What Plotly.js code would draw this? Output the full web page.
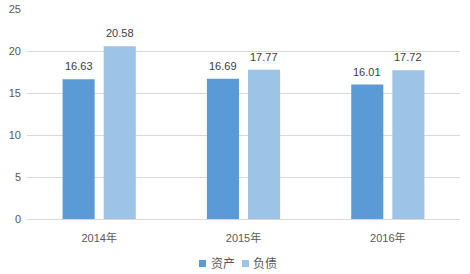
<!DOCTYPE html>
<html>
<head>
<meta charset="utf-8">
<script src="https://cdn.plot.ly/plotly-3.0.1.min.js"></script>
<style>html,body{margin:0;padding:0;background:#fff;}#chart{width:470px;height:274px;}</style>
</head>
<body>
<div id="chart"></div>
<script>
var categories = ["2014年", "2015年", "2016年"];
var assets = [16.63, 16.69, 16.01];
var liabilities = [20.58, 17.77, 17.72];
var seriesNames = ["资产", "负债"];
var seriesColors = ["#5B9BD5", "#9DC3E6"];
var yTicks = [0, 5, 10, 15, 20, 25];

var fontFam = "'Liberation Sans', 'Noto Sans CJK SC', sans-serif";
var series = [assets, liabilities];

var data = series.map(function(vals, i) {
  return {
    type: "bar", name: seriesNames[i], x: categories, y: vals,
    marker: {color: seriesColors[i]},
    hoverinfo: "none", showlegend: false
  };
});

// value labels above bars
var annotations = [];
var offsets = [-20.5, 20.5];
series.forEach(function(vals, i) {
  vals.forEach(function(v, j) {
    annotations.push({
      x: categories[j], y: v, xref: "x", yref: "y",
      text: v.toFixed(2), showarrow: false,
      xshift: offsets[i], yanchor: "bottom", yshift: 5,
      font: {family: fontFam, size: 11, color: "#404040"}
    });
  });
});

// manual legend (paper coords: plot spans x 27..460, y 9..219)
var shapes = [];
function px2x(p) { return (p - 27) / 433; }
function py2y(p) { return (219 - p) / 210; }
var legSq = [199, 242];
var legTx = [208.5, 250.5];
seriesNames.forEach(function(n, i) {
  shapes.push({type: "rect", xref: "paper", yref: "paper",
    x0: px2x(legSq[i]), x1: px2x(legSq[i] + 7), y0: py2y(267), y1: py2y(260),
    fillcolor: seriesColors[i], line: {width: 0}});
  annotations.push({xref: "paper", yref: "paper", x: px2x(legTx[i]), y: py2y(264),
    xanchor: "left", yanchor: "middle", text: n, showarrow: false,
    font: {family: fontFam, size: 12, color: "#595959"}});
});

var layout = {
  width: 470, height: 274,
  margin: {l: 27, r: 10, t: 9, b: 55},
  paper_bgcolor: "#fff", plot_bgcolor: "#fff",
  font: {family: fontFam, size: 11, color: "#595959"},
  bargap: 0.43, bargroupgap: 0.22,
  showlegend: false,
  annotations: annotations,
  shapes: shapes,
  xaxis: {showgrid: false, showline: true, linecolor: "#D9D9D9", linewidth: 1, ticks: "",
          ticklabelstandoff: 9, automargin: false,
          tickfont: {family: fontFam, size: 11, color: "#595959"}},
  yaxis: {range: [0, 25], tickvals: yTicks, showgrid: true, gridcolor: "#D9D9D9",
          zeroline: false, showline: false, ticks: "", ticklabelstandoff: 5, automargin: false,
          tickfont: {family: fontFam, size: 11, color: "#595959"}}
};

Plotly.newPlot("chart", data, layout, {displayModeBar: false, staticPlot: true});
</script>
</body>
</html>
